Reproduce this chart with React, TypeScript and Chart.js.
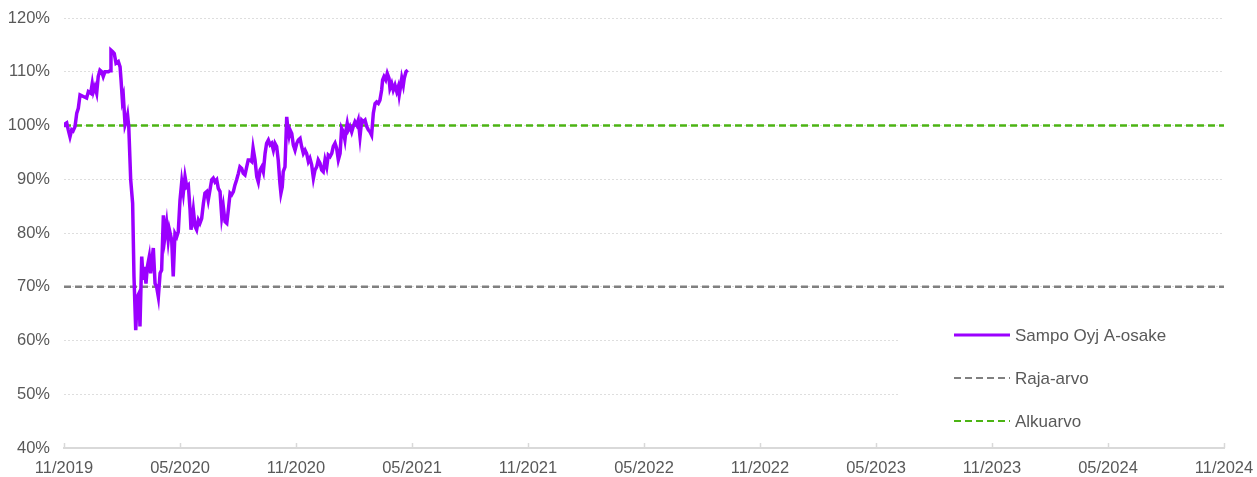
import React, { useEffect, useRef } from "react";
import { Chart, registerables } from "chart.js";

Chart.register(...registerables);

const xTickLabels = ["11/2019", "05/2020", "11/2020", "05/2021", "11/2021", "05/2022", "11/2022", "05/2023", "11/2023", "05/2024", "11/2024"];
const yTickValues = [40, 50, 60, 70, 80, 90, 100, 110, 120];

const seriesLabels = ["Sampo Oyj A-osake", "Raja-arvo", "Alkuarvo"];

// months since 11/2019
const sampoMonths = [
  0.0, 0.05, 0.14, 0.22, 0.31, 0.4, 0.47, 0.57, 0.66, 0.74, 0.83, 1.0, 1.17, 1.26, 1.38, 1.46, 1.52, 1.6, 1.69, 1.77,
  1.86, 1.95, 2.03, 2.12, 2.21, 2.3, 2.38, 2.43, 2.52, 2.6, 2.69, 2.81, 2.9, 2.95, 3.02, 3.07, 3.16, 3.24, 3.29, 3.35,
  3.45, 3.55, 3.62, 3.71, 3.79, 3.88, 3.93, 4.02, 4.1, 4.15, 4.24, 4.31, 4.41, 4.48, 4.55, 4.62, 4.71, 4.79, 4.88, 4.97,
  5.05, 5.14, 5.22, 5.31, 5.39, 5.45, 5.57, 5.65, 5.74, 5.83, 5.91, 6.0, 6.09, 6.17, 6.26, 6.35, 6.43, 6.52, 6.57, 6.69,
  6.78, 6.86, 6.95, 7.03, 7.12, 7.21, 7.29, 7.38, 7.46, 7.55, 7.64, 7.72, 7.81, 7.9, 7.98, 8.07, 8.16, 8.24, 8.33, 8.42,
  8.5, 8.59, 8.67, 8.76, 8.84, 8.93, 9.02, 9.1, 9.19, 9.27, 9.36, 9.45, 9.53, 9.62, 9.71, 9.78, 9.88, 9.97, 10.05, 10.14,
  10.23, 10.31, 10.4, 10.48, 10.57, 10.66, 10.74, 10.83, 10.91, 11.0, 11.08, 11.17, 11.22, 11.29, 11.34, 11.43, 11.52, 11.57, 11.64, 11.69,
  11.78, 11.86, 11.95, 12.04, 12.12, 12.21, 12.29, 12.38, 12.47, 12.55, 12.64, 12.72, 12.81, 12.9, 12.98, 13.07, 13.15, 13.24, 13.33, 13.41,
  13.5, 13.59, 13.67, 13.76, 13.85, 13.93, 14.02, 14.1, 14.19, 14.28, 14.36, 14.45, 14.53, 14.59, 14.65, 14.71, 14.79, 14.88, 14.96, 15.05,
  15.14, 15.22, 15.31, 15.4, 15.48, 15.57, 15.66, 15.74, 15.83, 15.91, 16.0, 16.09, 16.17, 16.26, 16.34, 16.43, 16.48, 16.55, 16.64, 16.72,
  16.81, 16.86, 16.95, 17.03, 17.12, 17.21, 17.29, 17.34, 17.42, 17.47, 17.55, 17.6, 17.69, 17.78,
];

const sampoValues = [
  100.0, 100.3, 100.5, 99.2, 97.9, 99.2, 99.0, 99.8, 102.3, 103.2, 105.7, 105.4, 105.1, 106.3, 106.0, 107.8, 106.3, 107.2, 106.0, 109.1,
  110.3, 110.0, 109.1, 110.0, 110.0, 110.0, 110.2, 114.0, 113.7, 113.4, 111.6, 111.9, 110.9, 108.5, 104.7, 105.4, 100.1, 101.0, 101.9, 99.8,
  89.9, 85.5, 71.9, 61.9, 68.1, 68.8, 62.6, 75.6, 71.3, 73.7, 70.6, 73.7, 75.6, 72.5, 75.0, 77.2, 70.6, 70.0, 68.1, 72.5,
  73.1, 83.3, 79.3, 81.8, 78.7, 80.6, 78.7, 71.9, 79.9, 79.3, 80.2, 86.1, 89.5, 87.4, 90.5, 88.6, 88.9, 84.3, 80.6, 84.3,
  81.2, 80.6, 82.4, 81.8, 82.7, 85.5, 87.4, 87.7, 86.1, 88.0, 89.9, 90.2, 89.5, 89.9, 88.3, 87.7, 83.0, 84.9, 82.1, 81.8,
  84.3, 87.4, 87.1, 87.7, 88.9, 89.9, 91.1, 92.3, 92.0, 91.1, 90.8, 92.3, 93.6, 93.6, 93.3, 95.8, 93.6, 90.5, 89.5, 91.7,
  92.3, 91.4, 94.8, 96.7, 97.3, 96.4, 96.7, 95.4, 96.7, 96.1, 93.6, 89.2, 87.4, 88.6, 91.4, 92.3, 101.6, 99.8, 98.2, 99.2,
  98.5, 96.4, 95.4, 96.7, 97.3, 97.6, 96.1, 94.8, 95.4, 94.8, 93.3, 93.9, 92.7, 90.2, 91.7, 92.3, 93.6, 93.0, 91.7, 91.4,
  93.6, 92.3, 94.5, 94.2, 94.8, 96.1, 96.7, 95.8, 93.6, 94.8, 99.5, 98.8, 97.3, 99.2, 100.4, 99.2, 99.8, 98.8, 99.8, 100.7,
  100.1, 101.0, 97.9, 101.0, 100.7, 101.0, 99.8, 99.2, 98.8, 98.2, 102.3, 104.1, 104.4, 104.1, 104.7, 106.6, 108.5, 109.1, 108.5, 109.7,
  108.8, 106.9, 107.8, 106.6, 107.5, 106.3, 107.2, 105.7, 107.5, 108.8, 107.5, 108.8, 110.0, 110.3,
];

const rajaArvo = 70;
const alkuarvo = 100;
const xRange = [0, 60];

const FONT = "Arial, 'Liberation Sans', sans-serif";
const TEXT = "#595959";
const PURPLE = "#9b00ff";
const GRAY = "#808080";
const GREEN = "#4cb414";

const tickMarksPlugin = {
  id: "tickMarks",
  afterDraw(chart: any) {
    const x = chart.scales.x;
    const ctx = chart.ctx;
    const bottom = chart.chartArea.bottom;
    ctx.save();
    ctx.strokeStyle = "#d9d9d9";
    ctx.lineWidth = 1.5;
    x.ticks.forEach((t: any) => {
      const px = Math.round(x.getPixelForValue(t.value)) + 0.5;
      ctx.beginPath();
      ctx.moveTo(px, bottom);
      ctx.lineTo(px, bottom - 5);
      ctx.stroke();
    });
    ctx.restore();
  },
};

const legendPlugin = {
  id: "boxLegend",
  afterDraw(chart: any) {
    const ctx = chart.ctx;
    const { right, bottom } = chart.chartArea;
    const bx = right - 326;
    const by = bottom - 130;
    ctx.save();
    ctx.fillStyle = "#ffffff";
    ctx.fillRect(bx, by, 324, 122);
    ctx.font = `17px ${FONT}`;
    ctx.textBaseline = "middle";
    ctx.textAlign = "left";
    chart.data.datasets.forEach((ds: any, i: number) => {
      const cy = by + 17 + i * 43;
      ctx.strokeStyle = ds.borderColor;
      ctx.lineWidth = i === 0 ? 3 : 2;
      ctx.setLineDash(ds.borderDash || []);
      ctx.beginPath();
      ctx.moveTo(bx + 56, cy);
      ctx.lineTo(bx + 112, cy);
      ctx.stroke();
      ctx.setLineDash([]);
      ctx.fillStyle = TEXT;
      ctx.fillText(ds.label, bx + 117, cy + 1);
    });
    ctx.restore();
  },
};

export default function App() {
  const ref = useRef<HTMLCanvasElement | null>(null);

  useEffect(() => {
    if (!ref.current) return;
    const chart = new Chart(ref.current, {
      type: "line",
      data: {
        datasets: [
          {
            label: seriesLabels[0],
            data: sampoMonths.map((m, i) => ({ x: m, y: sampoValues[i] })),
            borderColor: PURPLE,
            borderWidth: 3.5,
            pointRadius: 0,
            tension: 0,
          },
          {
            label: seriesLabels[1],
            data: xRange.map((m) => ({ x: m, y: rajaArvo })),
            borderColor: GRAY,
            borderWidth: 2.5,
            borderDash: [7, 4],
            pointRadius: 0,
          },
          {
            label: seriesLabels[2],
            data: xRange.map((m) => ({ x: m, y: alkuarvo })),
            borderColor: GREEN,
            borderWidth: 2.5,
            borderDash: [7, 4],
            pointRadius: 0,
          },
        ],
      },
      options: {
        animation: false,
        responsive: true,
        maintainAspectRatio: false,
        layout: { padding: { left: 0, right: 33, top: 18, bottom: 0 } },
        plugins: {
          legend: { display: false },
          tooltip: { enabled: false },
        },
        scales: {
          x: {
            type: "linear",
            min: xRange[0],
            max: xRange[1],
            afterBuildTicks: (s: any) => {
              s.ticks = xTickLabels.map((_, i) => ({ value: i * 6 }));
            },
            afterFit: (s: any) => {
              s.height = 29;
              s.paddingLeft = 0;
              s.paddingRight = 0;
            },
            ticks: {
              autoSkip: false,
              maxRotation: 0,
              padding: 11,
              color: TEXT,
              font: { family: FONT, size: 16.5 },
              callback: (v: any) => xTickLabels[Math.round(Number(v) / 6)] ?? "",
            },
            grid: { display: false, drawTicks: false },
            border: { display: true, color: "#d9d9d9", width: 2 },
          },
          y: {
            min: 40,
            max: 120,
            afterBuildTicks: (s: any) => {
              s.ticks = yTickValues.map((v) => ({ value: v }));
            },
            afterFit: (s: any) => {
              s.width = 64;
              s.paddingTop = 0;
              s.paddingBottom = 0;
            },
            ticks: {
              padding: 14,
              color: TEXT,
              font: { family: FONT, size: 16.5 },
              callback: (v: any) => `${v}%`,
            },
            grid: {
              color: (c: any) => (c.tick && c.tick.value === 40 ? "rgba(0,0,0,0)" : "#dedede"),
              lineWidth: 1,
              drawTicks: false,
            },
            border: { display: false, dash: [2, 2] },
          },
        },
      },
      plugins: [tickMarksPlugin, legendPlugin],
    });
    return () => chart.destroy();
  }, []);

  return (
    <div style={{ position: "fixed", left: 0, top: 0, width: 1257, height: 477, background: "#fff" }}>
      <canvas ref={ref} />
    </div>
  );
}
